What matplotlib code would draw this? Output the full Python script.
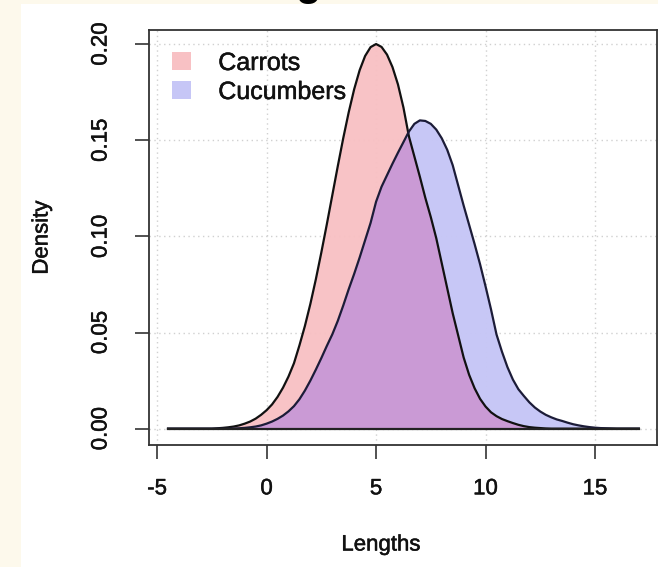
import matplotlib
matplotlib.use("Agg")
import matplotlib.pyplot as plt
import matplotlib.patheffects as pe
import numpy as np
from matplotlib.patches import Patch, Rectangle

# ---- data ----
lengths = [-4.5, -4.25, -4.0, -3.75, -3.5, -3.25, -3.0, -2.75, -2.5, -2.25,
           -2.0, -1.75, -1.5, -1.25, -1.0, -0.75, -0.5, -0.25, 0.0, 0.25,
           0.5, 0.75, 1.0, 1.25, 1.5, 1.75, 2.0, 2.25, 2.5, 2.75,
           3.0, 3.25, 3.5, 3.75, 4.0, 4.25, 4.5, 4.75, 5.0, 5.25,
           5.5, 5.75, 6.0, 6.25, 6.5, 6.75, 7.0, 7.25, 7.5, 7.75,
           8.0, 8.25, 8.5, 8.75, 9.0, 9.25, 9.5, 9.75, 10.0, 10.25,
           10.5, 10.75, 11.0, 11.25, 11.5, 11.75, 12.0, 12.25, 12.5, 12.75,
           13.0, 13.25, 13.5, 13.75, 14.0, 14.25, 14.5, 14.75, 15.0, 15.25,
           15.5, 15.75, 16.0, 16.25, 16.5, 16.75, 17.0]
carrots = [0.0, 0.0, 0.0, 0.0, 0.0, 0.0, 0.0, 0.0, 0.0, 0.0002,
           0.0004, 0.0007, 0.0011, 0.0017, 0.0026, 0.0037, 0.0052, 0.0072, 0.0096, 0.0126,
           0.0165, 0.0213, 0.0271, 0.0340, 0.0433, 0.0534, 0.0649, 0.0777, 0.0916, 0.1062,
           0.1213, 0.1364, 0.1510, 0.1645, 0.1765, 0.1864, 0.1938, 0.1984, 0.2000, 0.1985,
           0.1945, 0.1880, 0.1790, 0.1670, 0.1520, 0.1415, 0.1310, 0.1200, 0.1100, 0.0990,
           0.0860, 0.0730, 0.0600, 0.0485, 0.0370, 0.0280, 0.0210, 0.0155, 0.0115, 0.0085,
           0.0065, 0.0050, 0.0039, 0.0029, 0.0020, 0.0013, 0.0008, 0.0005, 0.0003, 0.0001,
           0.0, 0.0, 0.0, 0.0, 0.0, 0.0, 0.0, 0.0, 0.0, 0.0,
           0.0, 0.0, 0.0, 0.0, 0.0, 0.0, 0.0]
cucumbers = [0.0, 0.0, 0.0, 0.0, 0.0, 0.0, 0.0, 0.0, 0.0, 0.0,
             0.0, 0.0, 0.0001, 0.0002, 0.0004, 0.0007, 0.0011, 0.0017, 0.0026, 0.0037,
             0.0051, 0.0068, 0.0090, 0.0117, 0.0153, 0.0198, 0.0250, 0.0307, 0.0367, 0.0430,
             0.0490, 0.0560, 0.0640, 0.0725, 0.0805, 0.0890, 0.0980, 0.1070, 0.1180, 0.1258,
             0.1318, 0.1378, 0.1435, 0.1490, 0.1545, 0.1585, 0.1603, 0.1600, 0.1585, 0.1555,
             0.1510, 0.1450, 0.1370, 0.1265, 0.1160, 0.1060, 0.0960, 0.0855, 0.0740, 0.0620,
             0.0490, 0.0400, 0.0320, 0.0255, 0.0205, 0.0170, 0.0137, 0.0110, 0.0089, 0.0072,
             0.0059, 0.0048, 0.0040, 0.0031, 0.0023, 0.0017, 0.0012, 0.0008, 0.0005, 0.0003,
             0.0002, 0.0001, 0.0, 0.0, 0.0, 0.0, 0.0]
series_names = ["Carrots", "Cucumbers"]
x_ticks = [-5, 0, 5, 10, 15]
y_ticks = [0.00, 0.05, 0.10, 0.15, 0.20]
y_tick_labels = ["0.00", "0.05", "0.10", "0.15", "0.20"]

plt.rcParams['font.family'] = ['Liberation Sans', 'DejaVu Sans']

W, H = 658, 567
fig = plt.figure(figsize=(W / 100, H / 100), dpi=100)
fig.patch.set_facecolor('#fdf9ec')
bg = Rectangle((21 / W, 0), 1 - 21 / W, (H - 4) / H,
               transform=fig.transFigure, facecolor='white',
               edgecolor='none', zorder=-10)
fig.patches.append(bg)

# cut-off title glyph at the top
fig.text(308 / W, 1 + 5 / H, "g", fontsize=30, fontweight='bold',
         ha='center', va='baseline', color='black', zorder=5)

ax = fig.add_axes([149 / W, 1 - 445 / H, (657 - 149) / W, (445 - 30) / H])
ax.set_zorder(1)
ax.set_facecolor('none')

pink = '#f8c1c4'
blue = '#c6c6f6'
overlap = '#cb99d4'

c = np.array(carrots)
u = np.array(cucumbers)
ax.fill_between(lengths, c, 0, facecolor=pink, edgecolor='none', alpha=0.97, zorder=2)
ax.fill_between(lengths, u, 0, facecolor=blue, edgecolor='none', alpha=0.97, zorder=2)
ax.fill_between(lengths, np.minimum(c, u), 0, facecolor=overlap, edgecolor='none',
                alpha=0.97, zorder=3)
ax.plot(lengths, carrots, color='#111111', lw=1.6, zorder=4, solid_joinstyle='round')
ax.plot(lengths, cucumbers, color='#1c1c38', lw=1.6, zorder=4, solid_joinstyle='round')
ax.plot([lengths[0], lengths[-1]], [0, 0], color='#222222', lw=1.6, zorder=4)

ax.set_xlim(-5.37, 17.83)
ax.set_ylim(-0.0085, 0.2073)
ax.set_xticks(x_ticks)
ax.set_xticklabels([str(t) for t in x_ticks])
ax.set_yticks(y_ticks)
ax.set_yticklabels(y_tick_labels, rotation=90, va='center')

ax.grid(True, color='#d0d0d0', linestyle=(0, (1, 2.5)), linewidth=1.0, zorder=1)
ax.set_axisbelow(True)

for s in ax.spines.values():
    s.set_color('#333333')
    s.set_linewidth(1.3)

ax.tick_params(axis='both', direction='out', length=10, width=1.2,
               color='#333333', labelsize=16, labelcolor='#111111')
ax.tick_params(axis='y', pad=17)
ax.tick_params(axis='x', pad=14)

fx = [pe.withStroke(linewidth=0.35, foreground='#111111')]
for t in ax.get_xticklabels() + ax.get_yticklabels():
    t.set_path_effects(fx)

ax.set_xlabel("Lengths", fontsize=16, color='#111111')
ax.set_ylabel("Density", fontsize=16, color='#111111')
ax.xaxis.label.set_path_effects(fx)
ax.yaxis.label.set_path_effects(fx)
ax.xaxis.set_label_coords((381 - 149) / (657 - 149), (445 - 545) / (445 - 30))
ax.xaxis.label.set_va('center')
ax.yaxis.set_label_coords((42 - 149) / (657 - 149), 0.5)
ax.yaxis.label.set_va('center')

handles = [Patch(facecolor=pink, edgecolor='none'),
           Patch(facecolor=blue, edgecolor='none')]
leg = ax.legend(handles, series_names, loc='upper left', frameon=False, fontsize=18,
                handlelength=0.75, handleheight=0.75, handletextpad=1.1,
                labelspacing=0.2, borderaxespad=0.0,
                bbox_to_anchor=((162 - 149) / (657 - 149), (445 - 41) / (445 - 30)))
for t in leg.get_texts():
    t.set_path_effects(fx)
    t.set_color('#111111')

fig.savefig("out.png", dpi=100, facecolor=fig.get_facecolor())
